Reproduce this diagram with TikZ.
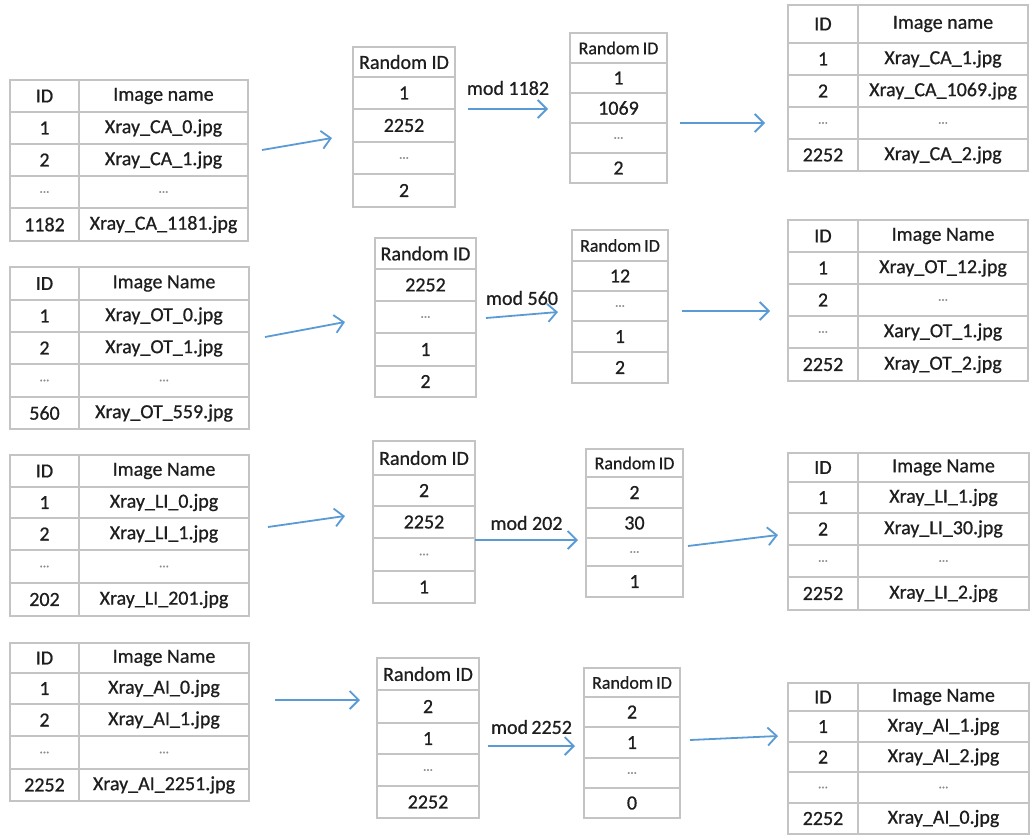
\documentclass[tikz,border=0pt]{standalone}
\usepackage{fontspec}
\setmainfont{Carlito}
\newfontfamily\cellfont[FakeBold=0.7]{Carlito}
\usetikzlibrary{arrows.meta}
\definecolor{gridc}{HTML}{C4C4C4}
\definecolor{txt}{HTML}{1E1E1E}
\definecolor{arrc}{HTML}{5B9BD5}
\definecolor{dotc}{HTML}{8A8A8A}
\newcommand\dd{{\color{dotc}\fontsize{13}{13}\selectfont ...}}
\newcommand\rid{{\fontsize{18}{18}\selectfont Random\,ID}}
\newcommand\tabtwo[5]{%
 \foreach \yt/\yb/\ta/\tb [count=\i] in {#5}{%
   \node[cell, minimum width={#3-#2}, minimum height={\yb-\yt}] (#1-\i-a) at ({(#2+#3)/2},{(\yt+\yb)/2}) {\ta};
   \node[cell, minimum width={#4-#3}, minimum height={\yb-\yt}] (#1-\i-b) at ({(#3+#4)/2},{(\yt+\yb)/2}) {\tb};
 }}
\newcommand\tabone[4]{%
 \foreach \yt/\yb/\ta [count=\i] in {#4}{%
   \node[cell, minimum width={#3-#2}, minimum height={\yb-\yt}] (#1-\i) at ({(#2+#3)/2},{(\yt+\yb)/2}) {\ta};
 }}
\tikzset{
  cell/.style={draw=gridc, line width=1.1pt, inner sep=0pt, outer sep=0pt, text=txt,
    font=\cellfont\fontsize{20}{20}\selectfont},
  arr/.style={draw=arrc, line width=1.8pt, -{Straight Barb[length=9pt,width=18pt,line width=1.8pt]}},
  lbl/.style={text=txt, font=\cellfont\fontsize{20}{20}\selectfont, inner sep=0pt}
}
\begin{document}
\begin{tikzpicture}[x=1pt,y=-1pt]
\useasboundingbox[fill=white] (0,0) rectangle (1035,839);
% ---------- row 1 ----------
\tabtwo{t1}{10}{79}{248}{80/112/ID/Image name, 112/144/1/Xray\_CA\_0.jpg, 144/176/2/Xray\_CA\_1.jpg, 176/208/\dd/\dd, 208/241/1182/Xray\_CA\_1181.jpg}
\tabone{r1}{353}{455}{47/77/Random ID, 77/109/1, 109/142/2252, 142/174/\dd, 174/207/2}
\tabone{m1}{570}{667}{33/63/\rid, 63/93/1, 93/123/1069, 123/153/\dd, 153/183/2}
\tabtwo{o1}{788}{858}{1028}{5/43/ID/Image name, 43/75/1/Xray\_CA\_1.jpg, 75/107/2/Xray\_CA\_1069.jpg, 107/139/\dd/\dd, 139/171/2252/Xray\_CA\_2.jpg}
% ---------- row 2 ----------
\tabtwo{t2}{10}{79}{249}{267/300/ID/Image Name, 300/332/1/Xray\_OT\_0.jpg, 332/364/2/Xray\_OT\_1.jpg, 364/397/\dd/\dd, 397/429/560/Xray\_OT\_559.jpg}
\tabone{r2}{375}{476}{238/269/Random ID, 269/301/2252, 301/333/\dd, 333/366/1, 366/397/2}
\tabone{m2}{572}{668}{230/261/\rid, 261/291/12, 291/321/\dd, 321/352/1, 352/383/2}
\tabtwo{o2}{788}{858}{1028}{220/252/ID/Image Name, 252/284/1/Xray\_OT\_12.jpg, 284/316/2/\dd, 316/348/\dd/Xary\_OT\_1.jpg, 348/381/2252/Xray\_OT\_2.jpg}
% ---------- row 3 ----------
\tabtwo{t3}{10}{79}{249}{455/487/ID/Image Name, 487/518/1/Xray\_LI\_0.jpg, 518/550/2/Xray\_LI\_1.jpg, 550/583/\dd/\dd, 583/616/202/Xray\_LI\_201.jpg}
\tabone{r3}{373}{475}{441/475/Random ID, 475/506/2, 506/538/2252, 538/571/\dd, 571/603/1}
\tabone{m3}{586}{683}{449/477/\rid, 477/508/2, 508/538/30, 538/566/\dd, 566/597/1}
\tabtwo{o3}{788}{858}{1029}{453/482/ID/Image Name, 482/513/1/Xray\_LI\_1.jpg, 513/545/2/Xray\_LI\_30.jpg, 545/577/\dd/\dd, 577/610/2252/Xray\_LI\_2.jpg}
% ---------- row 4 ----------
\tabtwo{t4}{10}{79}{249}{643/673/ID/Image Name, 673/704/1/Xray\_AI\_0.jpg, 704/736/2/Xray\_AI\_1.jpg, 736/769/\dd/\dd, 769/801/2252/Xray\_AI\_2251.jpg}
\tabone{r4}{377}{479}{658/690/Random ID, 690/723/2, 723/754/1, 754/786/\dd, 786/818/2252}
\tabone{m4}{584}{680}{668/697/\rid, 697/727/2, 727/758/1, 758/788/\dd, 788/818/0}
\tabtwo{o4}{788}{858}{1029}{683/711/ID/Image Name, 711/742/1/Xray\_AI\_1.jpg, 742/772/2/Xray\_AI\_2.jpg, 772/803/\dd/\dd, 803/834/2252/Xray\_AI\_0.jpg}
% ---------- arrow end points ----------
\coordinate (a1s) at (262,150); \coordinate (a1e) at (332,138);
\coordinate (b1s) at (468,109); \coordinate (b1e) at (548,109);
\coordinate (c1s) at (680,123); \coordinate (c1e) at (765,123);
\coordinate (a2s) at (265,337); \coordinate (a2e) at (345,322);
\coordinate (b2s) at (486,318); \coordinate (b2e) at (558,312);
\coordinate (c2s) at (682,311); \coordinate (c2e) at (770,311);
\coordinate (a3s) at (268,527); \coordinate (a3e) at (345,516);
\coordinate (b3s) at (475,540); \coordinate (b3e) at (578,540);
\coordinate (c3s) at (688,546); \coordinate (c3e) at (778,535);
\coordinate (a4s) at (275,700); \coordinate (a4e) at (360,700);
\coordinate (b4s) at (488,746); \coordinate (b4e) at (575,746);
\coordinate (c4s) at (690,740); \coordinate (c4e) at (778,736);
% ---------- arrows ----------
\draw[arr] (a1s) -- (a1e);
\draw[arr] (b1s) -- node[lbl, midway, yshift=21] (l1) {mod 1182} (b1e);
\draw[arr] (c1s) -- (c1e);
\draw[arr] (a2s) -- (a2e);
\draw[arr] (b2s) -- node[lbl, midway, yshift=17] (l2) {mod 560} (b2e);
\draw[arr] (c2s) -- (c2e);
\draw[arr] (a3s) -- (a3e);
\draw[arr] (b3s) -- node[lbl, midway, yshift=17] (l3) {mod 202} (b3e);
\draw[arr] (c3s) -- (c3e);
\draw[arr] (a4s) -- (a4e);
\draw[arr] (b4s) -- node[lbl, midway, yshift=19] (l4) {mod\,2252} (b4e);
\draw[arr] (c4s) -- (c4e);
\end{tikzpicture}
\end{document}
